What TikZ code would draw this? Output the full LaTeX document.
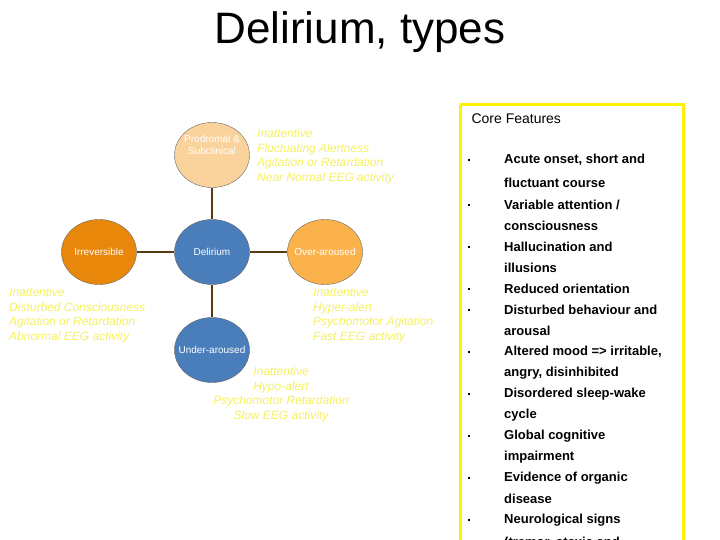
\documentclass[tikz,border=0pt]{standalone}
\usepackage{fontspec}
\setmainfont{Liberation Sans}
\usetikzlibrary{shapes.geometric}
\definecolor{blueC}{HTML}{4A7EBB}
\definecolor{orangeC}{HTML}{E8870A}
\definecolor{lightC}{HTML}{FBB24A}
\definecolor{paleC}{HTML}{FAD39C}
\definecolor{yelT}{HTML}{F4F060}
\definecolor{brownL}{HTML}{5A3A10}
\tikzset{
  blob/.style={ellipse,draw=black!60,minimum width=75pt,minimum height=65pt,inner xsep=-9pt,inner ysep=0pt,text=white,font=\fontsize{10}{12}\selectfont,align=center},
  note/.style={text=yelT,font=\itshape\fontsize{12}{14.5}\selectfont,inner sep=0pt},
  link/.style={brownL,line width=2.2pt},
  item/.style={anchor=west,font=\bfseries\fontsize{13}{15}\selectfont,inner sep=0pt},
  dot/.style={anchor=west,inner sep=0pt}
}
\begin{document}
\begin{tikzpicture}[x=1pt,y=-1pt]
  \useasboundingbox (0,0) rectangle (720,540);
  \node (title) at (360,32) {\fontsize{44}{48}\selectfont Delirium, types};

  % circles
  \node[blob,fill=blueC] (del) at (212,252) {Delirium};
  \node[blob,fill=paleC] (pro) at (212,155) {Prodromal \&\\Subclinical\\[8pt]};
  \node[blob,fill=orangeC] (irr) at (99,252) {Irreversible};
  \node[blob,fill=lightC] (over) at (325,252) {Over-aroused};
  \node[blob,fill=blueC] (under) at (212,350) {Under-aroused};
  \draw[link] (del) -- (pro);
  \draw[link] (del) -- (irr);
  \draw[link] (del) -- (over);
  \draw[link] (del) -- (under);

  % notes
  \node[note,anchor=north west,align=left] (proN) at (257,129) {Inattentive\\Fluctuating Alertness\\Agitation or Retardation\\Near Normal EEG activity};
  \node[note,anchor=north west,align=left] (irrN) at (9,288) {Inattentive\\Disturbed Consciousness\\Agitation or Retardation\\Abnormal EEG activity};
  \node[note,anchor=north west,align=left] (overN) at (313,288) {Inattentive\\Hyper-alert\\Psychomotor Agitation\\Fast EEG activity};
  \node[note,anchor=north,align=center] (underN) at (281,367) {Inattentive\\Hypo-alert\\Psychomotor Retardation\\Slow EEG activity};

  % core features
  \begin{scope}
    \clip (0,0) rectangle (720,540);
    \draw[yellow,line width=3pt] (460,105) -- (683,105) -- (683,560) (460,105) -- (460,560);
    \node[anchor=west,font=\fontsize{14}{16}\selectfont] (core) at (468,119) {Core Features};
    \foreach \y/\t in {160/{Acute onset, short and},183/{fluctuant course},205/{Variable attention /},
      226/{consciousness},247/{Hallucination and},268/{illusions},289/{Reduced orientation},
      310/{Disturbed behaviour and},331/{arousal},352/{Altered mood => irritable,},
      373/{angry, disinhibited},394/{Disordered sleep-wake},415/{cycle},436/{Global cognitive},
      457/{impairment},478/{Evidence of organic},499/{disease},520/{Neurological signs},543/{(tremor, ataxia and}}
      \node[item] at (504,\y) {\t};
    \foreach \y in {160,205,247,289,310,352,394,436,478,520}
      \node[dot] at (468,\y) {\rule{2pt}{2pt}};
  \end{scope}
\end{tikzpicture}
\end{document}
